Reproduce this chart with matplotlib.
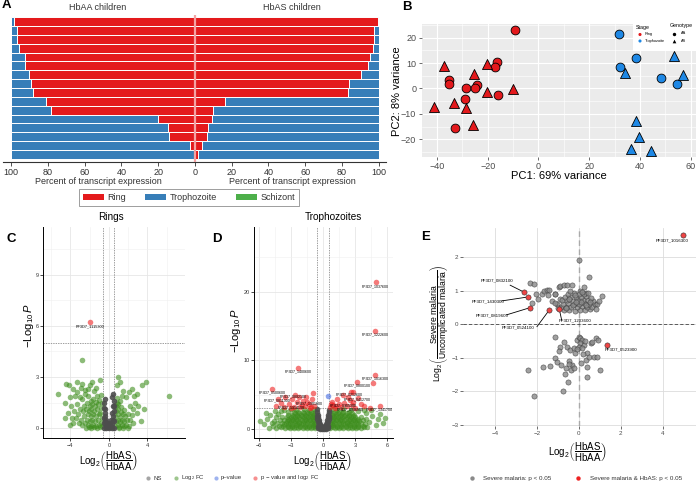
import numpy as np
import matplotlib
matplotlib.use("Agg")
import matplotlib.pyplot as plt
from matplotlib.patches import Patch, Rectangle

plt.rcParams['font.family'] = ['Liberation Sans', 'DejaVu Sans']
plt.rcParams['mathtext.fontset'] = 'custom'
plt.rcParams['mathtext.rm'] = 'Liberation Sans'
plt.rcParams['mathtext.it'] = 'Liberation Sans:italic'
plt.rcParams['mathtext.bf'] = 'Liberation Sans:bold'

# ---------------- data ----------------
# Panel A: stage composition (top bar first)
ring_aa = [98.7, 97.1, 96.9, 95.8, 92.7, 92.4, 90.4, 89.5, 88.2, 81.1, 78.2, 20.2, 14.7, 14.2, 2.7, 0.5]
troph_aa = [1.3, 2.9, 3.1, 4.2, 7.3, 7.6, 9.6, 10.5, 11.8, 18.9, 21.8, 79.8, 85.3, 85.8, 97.3, 99.5]
schiz_aa = [0.0] * 16
ring_as = [99.6, 97.5, 97.5, 97.1, 95.1, 94.2, 90.5, 83.6, 83.2, 16.4, 9.7, 9.4, 7.0, 6.3, 4.0, 1.4]
troph_as = [0.4, 2.5, 2.5, 2.9, 4.9, 5.8, 9.5, 16.4, 16.8, 83.6, 90.3, 90.6, 93.0, 93.7, 96.0, 98.6]
schiz_as = [0.0] * 16
stage_names = ['Ring', 'Trophozoite', 'Schizont']
pct_ticks = [-100, -80, -60, -40, -20, 0, 20, 40, 60, 80, 100]

# Panel B: PCA
pca_ring_aa = [(-9.2, 23.2), (-16.3, 10.3), (-17.1, 8.3), (-35.4, 3.3), (-35.1, 1.6), (-24.2, 1.2),
               (-28.6, 0.3), (-24.9, 0.1), (-15.8, -2.5), (-29.1, -4.3), (-32.8, -15.5)]
pca_ring_as = [(-37.1, 8.7), (-20.4, 9.6), (-25.5, 5.5), (-20.1, -1.4), (-9.9, -0.3), (-41.1, -7.2),
               (-33.4, -5.8), (-28.6, -7.8), (-25.8, -14.5)]
pca_troph_aa = [(31.6, 21.3), (38.3, 12.1), (32.2, 8.3), (48.4, 4.2), (54.7, 1.7)]
pca_troph_as = [(53.3, 12.9), (57.0, 5.3), (34.3, 6.1), (38.3, -13.0), (39.6, -19.3), (36.3, -23.9), (44.5, -24.6)]

# Panel C: volcano, rings
c_ns = [(-0.55, 1.5), (-0.5, 1.2), (-0.45, 0.9), (-0.5, 0.6), (-0.4, 0.4), (-0.3, 0.2), (-0.2, 0.1), (-0.1, 0.05),
        (0.0, 0.0), (0.1, 0.05), (0.2, 0.1), (0.3, 0.25), (0.4, 0.45), (0.45, 0.7), (0.5, 1.0), (0.55, 1.3),
        (0.5, 1.6), (0.45, 2.0), (-0.35, 0.7), (-0.25, 0.45), (0.25, 0.5), (0.35, 0.9), (-0.45, 1.7), (0.3, 1.8),
        (-0.15, 0.3), (0.15, 0.3), (-0.05, 0.15), (0.05, 0.2), (-0.55, 0.3), (0.55, 0.4), (-0.4, 1.1), (0.4, 1.3),
        (-0.3, 0.0), (0.3, 0.0), (-0.5, 0.0), (0.5, 0.0)]
c_fc = [(-0.7, 0.1), (-0.8, 0.3), (-0.7, 0.6), (-0.9, 0.9), (-0.8, 1.2), (-1.0, 0.2), (-1.1, 0.5), (-1.0, 0.8),
        (-1.2, 1.1), (-1.1, 1.4), (-1.3, 0.1), (-1.4, 0.4), (-1.3, 0.7), (-1.5, 1.0), (-1.4, 1.3), (-1.6, 0.2),
        (-1.7, 0.5), (-1.6, 0.8), (-1.8, 1.1), (-1.7, 1.4), (-1.9, 0.1), (-2.0, 0.4), (-1.9, 0.7), (-2.1, 1.0),
        (-2.0, 1.3), (-2.2, 0.2), (-2.3, 0.5), (-2.2, 0.8), (-2.4, 1.1), (-2.5, 0.3), (-2.6, 0.7), (-2.7, 1.0),
        (-2.8, 0.2), (-2.9, 0.5), (-0.9, 0.05), (-1.2, 0.0), (-1.5, 0.05), (-1.8, 0.0), (-2.1, 0.05), (-2.4, 0.0),
        (-0.75, 1.5), (-1.05, 1.65), (-1.35, 1.55), (-1.6, 1.7), (-1.9, 1.6), (-2.3, 1.45), (-2.6, 1.3), (-3.0, 1.1),
        (-3.2, 0.8), (-3.1, 0.3), (-3.4, 0.6), (-3.6, 1.0), (-3.3, 1.4), (-2.8, 1.7), (-2.2, 1.9), (-1.2, 1.9),
        (-0.85, 1.95),
        (-5.3, 2.0), (-4.45, 2.6), (-4.1, 2.5), (-3.75, 2.3), (-3.3, 2.7), (-2.8, 2.6), (-2.75, 4.0), (-2.45, 2.25),
        (-2.15, 2.3), (-1.5, 2.2), (-1.3, 2.35), (-0.9, 2.8), (-4.6, 0.6), (-4.5, 1.5), (-3.8, 0.6), (-3.9, 1.3),
        (-3.0, 1.8), (-2.5, 2.0), (-3.5, 1.9), (-4.0, 1.8), (-3.3, 2.1), (-2.0, 2.5), (-1.7, 2.7), (-2.9, 2.35),
        (-4.2, 0.9), (-3.7, 0.3), (-4.0, 0.2),
        (0.65, 0.1), (0.7, 0.4), (0.65, 0.7), (0.75, 1.0), (0.7, 1.3), (0.9, 0.2), (0.95, 0.5), (0.9, 0.8),
        (1.0, 1.1), (1.1, 0.05), (1.2, 0.35), (1.15, 0.65), (1.25, 0.95), (1.35, 0.2), (1.4, 0.5), (1.45, 0.8),
        (1.55, 0.1), (1.6, 0.4), (1.7, 0.7), (1.8, 0.2), (1.9, 0.5), (2.0, 0.85), (2.1, 0.15), (2.2, 0.45),
        (0.8, 1.5), (1.0, 1.4), (1.3, 1.25), (1.6, 1.05), (2.4, 0.75), (2.5, 0.3), (0.85, 1.75), (1.2, 1.6),
        (1.05, 0.0), (1.5, 0.0), (1.95, 0.0),
        (1.0, 3.0), (1.2, 2.7), (0.8, 2.5), (2.1, 2.1), (2.35, 2.3), (3.45, 2.5), (3.9, 2.7), (6.25, 1.9),
        (3.3, 0.4), (2.7, 1.5), (2.9, 0.9), (2.6, 1.9), (1.5, 2.2), (1.8, 1.8), (2.2, 1.3), (3.0, 1.3),
        (3.6, 1.1), (2.9, 2.0), (1.4, 1.9), (2.5, 1.1)]
c_both = [(-1.92, 6.2)]
c_both_labels = ['PF3D7_1115300']

# Panel D: volcano, trophozoites
d_ns = [(-0.55, 2.5), (-0.5, 2.1), (-0.45, 1.7), (-0.4, 1.3), (-0.35, 1.0), (-0.3, 0.7), (-0.2, 0.45), (-0.1, 0.25),
        (0.0, 0.1), (0.1, 0.25), (0.2, 0.45), (0.3, 0.7), (0.35, 1.0), (0.4, 1.3), (0.45, 1.7), (0.5, 2.1),
        (0.55, 2.5), (-0.5, 1.0), (-0.45, 0.5), (-0.35, 0.3), (-0.2, 0.1), (0.2, 0.1), (0.35, 0.3), (0.45, 0.5),
        (0.5, 1.0), (-0.55, 1.4), (0.55, 1.4), (-0.5, 0.1), (0.5, 0.1), (-0.3, 0.0), (0.3, 0.0), (-0.55, 1.9),
        (0.55, 1.9), (-0.1, 0.0), (0.1, 0.0), (0.0, 0.3), (-0.57, 2.9), (0.57, 2.8)]
d_fc = [(-0.7, 0.1), (-1.1, 0.12), (-1.5, 0.08), (-1.9, 0.1), (-2.3, 0.12), (-2.7, 0.1), (-3.1, 0.08), (-3.5, 0.1),
        (-0.9, 0.3), (-1.3, 0.32), (-1.7, 0.28), (-2.1, 0.3), (-2.5, 0.31), (-2.9, 0.3), (-3.3, 0.29), (-3.9, 0.3),
        (-0.75, 0.5), (-0.95, 0.52), (-1.3, 0.5), (-1.7, 0.48), (-2.1, 0.5), (-2.5, 0.52), (-2.9, 0.5), (-3.3, 0.49),
        (-3.7, 0.5), (-4.1, 0.51), (-0.85, 0.7), (-1.25, 0.72), (-1.65, 0.7), (-2.05, 0.68), (-2.45, 0.7),
        (-2.85, 0.71), (-3.25, 0.7), (-3.65, 0.69), (-0.7, 0.9), (-1.05, 0.92), (-1.45, 0.9), (-1.85, 0.88),
        (-2.25, 0.9), (-2.65, 0.91), (-3.05, 0.9), (-3.45, 0.89), (-3.85, 0.9), (-4.3, 0.92), (-0.9, 1.1),
        (-1.4, 1.12), (-1.8, 1.1), (-2.2, 1.08), (-2.6, 1.1), (-3.0, 1.11), (-3.4, 1.1), (-0.8, 1.3), (-1.2, 1.32),
        (-1.6, 1.3), (-2.0, 1.28), (-2.4, 1.3), (-2.8, 1.31), (-3.2, 1.3), (-3.6, 1.29), (-4.0, 1.3), (-0.9, 1.5),
        (-1.3, 1.52), (-1.7, 1.5), (-2.1, 1.48), (-2.5, 1.5), (-2.9, 1.51), (-3.3, 1.5), (-0.7, 1.7), (-1.0, 1.72),
        (-1.4, 1.7), (-1.8, 1.68), (-2.2, 1.7), (-2.6, 1.71), (-3.0, 1.7), (-3.4, 1.69), (-3.8, 1.7), (-0.9, 1.9),
        (-1.2, 1.92), (-1.6, 1.9), (-2.0, 1.88), (-2.4, 1.9), (-2.8, 1.91), (-0.85, 2.1), (-1.25, 2.12),
        (-1.65, 2.1), (-2.05, 2.08), (-2.45, 2.1), (-2.85, 2.11), (-3.3, 2.1), (-0.95, 2.3), (-1.4, 2.32),
        (-1.8, 2.3), (-2.2, 2.28), (-2.6, 2.3), (-0.7, 2.5), (-1.1, 2.52), (-1.5, 2.5), (-1.9, 2.48), (-2.3, 2.5),
        (-2.7, 2.51), (-0.8, 2.85), (-1.3, 2.8), (-1.8, 2.87), (-2.5, 2.82),
        (-5.9, 1.2), (-5.5, 0.7), (-5.2, 1.5), (-4.9, 2.1), (-4.7, 0.4), (-4.6, 1.2), (-4.5, 2.6), (-4.4, 1.7),
        (-5.3, 2.4), (-4.2, 2.2), (-3.9, 2.6), (-3.6, 2.8), (-3.3, 2.5), (-3.0, 2.9), (-4.8, 0.9), (-5.0, 0.2),
        (-4.4, 0.1),
        (0.7, 0.1), (1.1, 0.12), (1.5, 0.08), (1.9, 0.1), (2.3, 0.12), (2.7, 0.1), (3.1, 0.08), (3.5, 0.1),
        (0.9, 0.3), (1.3, 0.32), (1.7, 0.28), (2.1, 0.3), (2.5, 0.31), (2.9, 0.3), (3.3, 0.29), (3.8, 0.3),
        (0.75, 0.5), (0.95, 0.52), (1.3, 0.5), (1.7, 0.48), (2.1, 0.5), (2.5, 0.52), (2.9, 0.5), (3.3, 0.49),
        (3.7, 0.5), (0.85, 0.7), (1.25, 0.72), (1.65, 0.7), (2.05, 0.68), (2.45, 0.7), (2.85, 0.71), (3.25, 0.7),
        (0.7, 0.9), (1.05, 0.92), (1.45, 0.9), (1.85, 0.88), (2.25, 0.9), (2.65, 0.91), (3.05, 0.9), (3.5, 0.89),
        (0.9, 1.1), (1.4, 1.12), (1.8, 1.1), (2.2, 1.08), (2.6, 1.1), (3.0, 1.11), (3.4, 1.1), (0.8, 1.3),
        (1.2, 1.32), (1.6, 1.3), (2.0, 1.28), (2.4, 1.3), (2.8, 1.31), (3.2, 1.3), (3.7, 1.29), (0.9, 1.5),
        (1.3, 1.52), (1.7, 1.5), (2.1, 1.48), (2.5, 1.5), (2.9, 1.51), (3.3, 1.5), (0.7, 1.7), (1.0, 1.72),
        (1.4, 1.7), (1.8, 1.68), (2.2, 1.7), (2.6, 1.71), (3.0, 1.7), (3.5, 1.69), (0.9, 1.9), (1.2, 1.92),
        (1.6, 1.9), (2.0, 1.88), (2.4, 1.9), (2.8, 1.91), (0.85, 2.1), (1.25, 2.12), (1.65, 2.1), (2.05, 2.08),
        (2.45, 2.1), (2.9, 2.11), (0.95, 2.3), (1.4, 2.32), (1.8, 2.3), (2.2, 2.28), (2.7, 2.3), (0.7, 2.5),
        (1.1, 2.52), (1.5, 2.5), (1.9, 2.48), (2.4, 2.5), (0.8, 2.85), (1.3, 2.8), (1.9, 2.87), (2.6, 2.82),
        (4.0, 2.4), (4.3, 1.0), (4.6, 1.9), (4.9, 0.6), (5.1, 1.4), (5.3, 2.2), (5.6, 0.9), (4.1, 0.3),
        (4.5, 2.7), (3.8, 2.8), (5.8, 1.6), (4.0, 1.5), (3.9, 0.7), (3.3, 2.6)]
d_p = [(0.5, 4.85)]
d_both = [(4.91, 21.35), (4.85, 14.3), (-2.33, 8.9), (4.85, 7.8), (4.66, 6.7), (3.2, 6.85), (-4.78, 5.87),
          (2.83, 5.35), (2.58, 5.4), (5.3, 3.35),
          (-4.4, 3.3), (-4.2, 4.4), (-3.9, 3.8), (-3.5, 4.6), (-3.2, 3.6), (-2.9, 4.3), (-2.6, 5.0), (-2.4, 3.9),
          (-2.2, 4.6), (-2.0, 3.5), (-1.9, 4.1), (-1.7, 3.3), (-1.5, 4.0), (-1.3, 3.6), (-1.1, 3.2), (-1.0, 4.3),
          (-0.9, 5.3), (-2.7, 3.2), (-3.6, 3.2), (-1.6, 4.7), (-2.1, 3.2), (-1.2, 3.0), (-0.8, 3.4), (-3.0, 3.1),
          (0.7, 3.2), (0.8, 4.0), (0.9, 3.5), (1.1, 3.1), (1.3, 4.3), (1.5, 3.6), (1.7, 3.2), (2.0, 3.8),
          (2.2, 3.3), (2.5, 4.2), (2.7, 3.5), (3.0, 3.1), (3.3, 4.5), (3.5, 3.7), (1.9, 4.9), (2.3, 4.7),
          (0.75, 3.7), (1.2, 3.4), (2.8, 3.9), (3.8, 3.3), (4.4, 3.0)]
d_labels = ['PF3D7_1037600', 'PF3D7_1222600', 'PF3D7_1400600', 'PF3D7_1016300', 'PF3D7_0800100',
            'PF3D7_0500600', 'PF3D7_0802100', 'PF3D7_0811300', 'PF3D7_1001600', 'PF3D7_1354100',
            'PF3D7_0212600', 'PF3D7_0412700', 'PF3D7_0305300', 'PF3D7_0936900', 'PF3D7_1341700']
d_label_xy = [(4.89, 20.7), (4.89, 13.8), (-2.33, 8.4), (4.89, 7.3), (3.2, 6.3), (-4.75, 5.4), (-2.8, 4.7),
              (-4.3, 4.2), (-1.3, 3.8), (-3.0, 3.1), (2.4, 5.0), (3.2, 4.3), (1.9, 3.5), (2.5, 2.9), (5.2, 2.9)]

# Panel E
e_sig = [(-2.32, 1.24), (-2.16, 1.22), (-2.03, 0.9), (-2.24, 0.65), (-1.97, 0.75), (-1.76, 0.92), (-1.68, 1.0),
         (-1.52, 1.03), (-1.44, 1.04), (-1.47, 0.88), (-1.28, 0.7), (-1.15, 0.9), (-1.12, 0.92), (-0.96, 1.12),
         (-0.88, 1.14), (-0.72, 1.17), (-0.56, 1.17), (-0.32, 1.17), (0.0, 1.92), (0.51, 1.42), (1.12, 0.84),
         (0.24, 1.12), (0.08, 1.0), (0.32, 0.95), (-1.05, 0.6), (-1.15, 0.65), (-0.9, 0.75),
         (-0.7, 0.42), (-0.45, 0.44), (-0.2, 0.41), (0.05, 0.43), (0.3, 0.42), (0.55, 0.45),
         (-0.85, 0.52), (-0.6, 0.53), (-0.35, 0.51), (-0.1, 0.52), (0.15, 0.54), (0.4, 0.52), (0.65, 0.53),
         (-0.75, 0.62), (-0.5, 0.63), (-0.25, 0.61), (0.0, 0.62), (0.25, 0.64), (0.5, 0.62), (0.75, 0.6),
         (-0.8, 0.72), (-0.55, 0.73), (-0.3, 0.71), (-0.05, 0.72), (0.2, 0.74), (0.45, 0.72), (0.7, 0.7),
         (-0.65, 0.82), (-0.4, 0.83), (-0.15, 0.81), (0.1, 0.82), (0.35, 0.84), (0.6, 0.8),
         (-0.5, 0.92), (-0.25, 0.93), (0.0, 0.91), (0.25, 0.9), (0.45, 0.93),
         (-0.6, 0.48), (-0.3, 0.57), (0.1, 0.67), (-0.15, 0.66), (0.35, 0.58), (-0.45, 0.77), (0.55, 0.68),
         (-0.2, 0.87), (0.85, 0.6), (-1.0, 0.48), (0.95, 0.7), (0.8, 0.45), (-0.4, 1.0), (0.15, 0.98),
         (-2.43, -1.38), (-2.13, -2.14), (-1.73, -1.28), (-1.36, -1.24), (-1.15, -0.39), (-1.15, -1.01),
         (-1.04, -1.14), (-0.88, -0.69), (-0.83, -1.21), (-0.75, -1.98), (-0.67, -1.49), (-0.51, -1.71),
         (-0.61, -1.31), (-0.48, -1.09), (-0.32, -1.21), (-0.35, -1.36), (-0.56, -0.69), (-0.4, -0.77),
         (-0.24, -0.72), (-0.08, -0.47), (0.0, -0.37), (0.08, -0.4), (0.16, -0.47), (0.08, -0.57),
         (0.24, -0.62), (0.0, -0.69), (0.16, -0.72), (0.32, -1.07), (0.4, -0.87), (0.48, -0.97), (0.37, -1.56),
         (0.4, -1.27), (0.72, -0.97), (0.88, -0.99), (1.01, -1.38), (0.8, -0.42), (0.93, -0.47), (0.56, -0.55),
         (0.64, -0.52), (-0.72, -0.52), (-0.2, -0.85), (-0.1, -0.75), (0.3, -0.5), (-0.45, -1.2), (0.2, -0.9),
         (-0.95, -0.8), (-0.25, -1.3), (0.1, -1.15)]
e_both = [(4.98, 2.67), (-2.61, 0.96), (-2.41, 0.82), (-2.32, 0.5), (-1.42, 0.42), (-0.94, 0.47), (1.36, -0.61)]
e_both_labels = ['PF3D7_1016300', 'PF3D7_0832100', 'PF3D7_1430300', 'PF3D7_0819600', 'PF3D7_0524100',
                 'PF3D7_1203600', 'PF3D7_0523900']
e_label_xy = [(4.45, 2.5), (-3.93, 1.32), (-4.36, 0.7), (-4.14, 0.27), (-2.9, -0.1), (-0.16, 0.13), (2.0, -0.74)]
e_seg_start = [None, (-3.28, 1.17), (-3.68, 0.7), (-3.47, 0.28), (-2.0, -0.07), (-0.82, 0.13), None]

# ---------------- layout ----------------
W, H = 696, 484
fig = plt.figure(figsize=(W / 100, H / 100), dpi=100)


def rect(x0, y0, x1, y1):
    return [x0 / W, 1 - y1 / H, (x1 - x0) / W, (y1 - y0) / H]


ov = fig.add_axes([0, 0, 1, 1], zorder=10)
ov.set_xlim(0, W)
ov.set_ylim(H, 0)
ov.axis('off')
ov.patch.set_alpha(0)

RED, BLUE, GREEN = '#E41A1C', '#377EB8', '#4DAF4A'
TXT = '#333333'

# panel letters
for lab, (px, py) in zip('ABCDE', [(6, 5), (407, 7), (11, 239), (217, 239), (426, 237)]):
    ov.text(px, py, lab, fontsize=9.5, fontweight='bold', ha='center', va='center')

# ---------------- Panel A ----------------
axA = fig.add_axes(rect(3, 15, 386, 162))
n = len(ring_aa)
ypos = np.arange(n)[::-1]
r_aa, t_aa, s_aa = np.array(ring_aa), np.array(troph_aa), np.array(schiz_aa)
r_as, t_as, s_as = np.array(ring_as), np.array(troph_as), np.array(schiz_as)
kw = dict(height=1.0, edgecolor='white', linewidth=0.7)
axA.barh(ypos, -r_aa, left=0, color=RED, **kw)
axA.barh(ypos, -t_aa, left=-r_aa, color=BLUE, **kw)
axA.barh(ypos, -s_aa, left=-(r_aa + t_aa), color=GREEN, **kw)
axA.barh(ypos, r_as, left=0, color=RED, **kw)
axA.barh(ypos, t_as, left=r_as, color=BLUE, **kw)
axA.barh(ypos, s_as, left=r_as + t_as, color=GREEN, **kw)
axA.axvline(0, color='#F4A3A3', lw=1.6, zorder=3)
axA.set_xlim(-104.5, 104)
axA.set_ylim(-0.5 - 0.34, n - 0.5 + 0.23)
axA.set_yticks([])
axA.set_xticks(pct_ticks)
axA.set_xticklabels([str(abs(v)) for v in pct_ticks])
for s in ['top', 'right', 'left']:
    axA.spines[s].set_visible(False)
axA.spines['bottom'].set_color(TXT)
axA.spines['bottom'].set_linewidth(0.8)
axA.tick_params(axis='x', length=3, width=0.6, color=TXT, labelsize=6.5, labelcolor=TXT, pad=1.5)
ov.text(97.5, 7, 'HbAA children', fontsize=6.5, color=TXT, ha='center', va='center')
ov.text(292, 7, 'HbAS children', fontsize=6.5, color=TXT, ha='center', va='center')
ov.text(98, 181.5, 'Percent of transcript expression', fontsize=6.5, color=TXT, ha='center', va='center')
ov.text(292, 181.5, 'Percent of transcript expression', fontsize=6.5, color=TXT, ha='center', va='center')
handlesA = [Patch(facecolor=c, edgecolor='none') for c in (RED, BLUE, GREEN)]
legA = fig.legend(handlesA, stage_names, loc='center', bbox_to_anchor=(189 / W, 1 - 197.5 / H), ncol=3,
                  fontsize=6.5, frameon=True, fancybox=False, handlelength=2.3, handleheight=0.65,
                  handletextpad=0.4, columnspacing=2.1, borderpad=0.45, borderaxespad=0)
legA.get_frame().set_edgecolor('#555555')
legA.get_frame().set_linewidth(0.5)
for t in legA.get_texts():
    t.set_color(TXT)

# ---------------- Panel B ----------------
axB = fig.add_axes(rect(421.7, 24, 696, 156.7))
axB.set_facecolor('#EBEBEB')
axB.set_xlim(-46, 62.1)
axB.set_ylim(-26.9, 25.4)
axB.set_xticks([-40, -20, 0, 20, 40, 60])
axB.set_yticks([-20, -10, 0, 10, 20])
axB.set_xticks([-30, -10, 10, 30, 50], minor=True)
axB.set_yticks([-25, -15, -5, 5, 15, 25], minor=True)
axB.grid(which='major', color='white', lw=0.8)
axB.grid(which='minor', color='white', lw=0.4)
axB.set_axisbelow(True)
for s in axB.spines.values():
    s.set_visible(False)
axB.tick_params(which='major', length=2.5, width=0.5, color=TXT, labelsize=6.5, labelcolor='#4d4d4d', pad=1.5)
axB.tick_params(which='minor', length=0)
RB, BB = '#E3191C', '#1E88E5'
for pts, col, mk, sz in [(pca_ring_aa, RB, 'o', 40), (pca_ring_as, RB, '^', 52),
                         (pca_troph_aa, BB, 'o', 40), (pca_troph_as, BB, '^', 52)]:
    a = np.array(pts)
    axB.scatter(a[:, 0], a[:, 1], s=sz, marker=mk, c=col, edgecolors='black', linewidths=0.6, zorder=3)
axB.set_xlabel('PC1: 69% variance', fontsize=8, color='black')
axB.set_ylabel('PC2: 8% variance', fontsize=8, color='black')
axB.xaxis.set_label_coords(559, 176, transform=ov.transData)
axB.yaxis.set_label_coords(397, 91, transform=ov.transData)
axB.xaxis.label.set_va('center')
axB.yaxis.label.set_va('center')
# legend box for B
ov.add_patch(Rectangle((633, 22), 63, 29, facecolor='white', edgecolor='none', zorder=5))
ov.text(636, 28, 'Stage', fontsize=3.8, ha='left', va='center', zorder=6)
ov.text(670, 26, 'Genotype', fontsize=3.8, ha='left', va='center', zorder=6)
ov.scatter([640, 640], [34.5, 41], s=5, c=[RB, BB], marker='o', zorder=6, linewidths=0)
ov.text(645, 34.5, 'Ring', fontsize=2.8, ha='left', va='center', zorder=6)
ov.text(645, 41, 'Trophozoite', fontsize=2.8, ha='left', va='center', zorder=6)
ov.scatter([674], [33.5], s=6, c='black', marker='o', zorder=6, linewidths=0)
ov.scatter([674], [40.5], s=7, c='black', marker='^', zorder=6, linewidths=0)
ov.text(681, 33.5, 'AA', fontsize=2.8, ha='left', va='center', zorder=6)
ov.text(681, 40.5, 'AS', fontsize=2.8, ha='left', va='center', zorder=6)

# ---------------- Volcano helper ----------------
NS_C, FC_C, P_C, BOTH_C = '#4d4d4d', '#3f8f1f', '#4169E1', '#EE2222'
XLAB = r'$\mathrm{Log}_2\left(\dfrac{\mathrm{HbAS}}{\mathrm{HbAA}}\right)$'


def style_volcano(ax, xlim, ylim, xmaj, xmin, ymaj, ymin, hline):
    ax.set_xlim(*xlim)
    ax.set_ylim(*ylim)
    ax.set_xticks(xmaj)
    ax.set_xticks(xmin, minor=True)
    ax.set_yticks(ymaj)
    ax.set_yticks(ymin, minor=True)
    ax.grid(which='major', color='#e6e6e6', lw=0.6)
    ax.grid(which='minor', color='#f0f0f0', lw=0.4)
    ax.set_axisbelow(True)
    for s in ['top', 'right']:
        ax.spines[s].set_visible(False)
    for s in ['left', 'bottom']:
        ax.spines[s].set_color('black')
        ax.spines[s].set_linewidth(0.7)
    ax.tick_params(which='major', length=2, width=0.5, labelsize=4, labelcolor='#333333', pad=1.5)
    ax.tick_params(which='minor', length=0)
    ax.axvline(-0.58, color='#777777', ls=(0, (2, 1.5)), lw=0.5)
    ax.axvline(0.58, color='#777777', ls=(0, (2, 1.5)), lw=0.5)
    ax.axhline(hline, color='#777777', ls=(0, (2, 1.5)), lw=0.5)
    ax.set_xlabel(XLAB, fontsize=7)
    ax.set_ylabel(r'$-\mathrm{Log}_{10}\,\mathit{P}$', fontsize=8)


def scat(ax, pts, col, alpha, s=16):
    a = np.array(pts)
    ax.scatter(a[:, 0], a[:, 1], s=s, c=col, alpha=alpha, linewidths=0, zorder=3)


# ---------------- Panel C ----------------
axC = fig.add_axes(rect(43.3, 227, 185, 438.3))
style_volcano(axC, (-6.8, 7.9), (-0.6, 11.8), [-4, 0, 4], [-6, -2, 2, 6], [0, 3, 6, 9], [1.5, 4.5, 7.5, 10.5], 5)
scat(axC, c_fc, FC_C, 0.6)
scat(axC, c_ns, NS_C, 0.9)
scat(axC, c_both, BOTH_C, 0.6)
for (x, y), lab in zip(c_both, c_both_labels):
    axC.text(x, y - 0.25, lab, fontsize=2.8, ha='center', va='center', zorder=4)
ov.text(111, 217, 'Rings', fontsize=7.2, ha='center', va='center')
axC.xaxis.set_label_coords(109, 461, transform=ov.transData)
axC.yaxis.set_label_coords(29, 325, transform=ov.transData)
axC.xaxis.label.set_va('center')
axC.yaxis.label.set_va('center')

# ---------------- Panel D ----------------
axD = fig.add_axes(rect(254.3, 227, 393.3, 438.3))
style_volcano(axD, (-6.41, 6.56), (-1.35, 29.4), [-6, -3, 0, 3, 6], [-4.5, -1.5, 1.5, 4.5], [0, 10, 20],
              [5, 15, 25], 3.0)
scat(axD, d_fc, FC_C, 0.6)
scat(axD, d_ns, NS_C, 0.9)
scat(axD, d_p, P_C, 0.6)
scat(axD, d_both, BOTH_C, 0.6)
for (x, y), lab in zip(d_label_xy, d_labels):
    axD.text(x, y, lab, fontsize=2.6, ha='center', va='center', zorder=4)
ov.text(333, 217, 'Trophozoites', fontsize=7.2, ha='center', va='center')
axD.xaxis.set_label_coords(323, 461, transform=ov.transData)
axD.yaxis.set_label_coords(236, 330, transform=ov.transData)
axD.xaxis.label.set_va('center')
axD.yaxis.label.set_va('center')

# volcano legend
leg_items = [(148.3, NS_C, 0.5, 'NS'), (175.7, FC_C, 0.5, r'Log$_2$ FC'), (215.7, P_C, 0.5, 'p\u2013value'),
             (255, BOTH_C, 0.5, r'p $-$ value and log$_2$ FC')]
for px, col, al, lab in leg_items:
    ov.scatter([px], [478], s=9, c=col, alpha=al, linewidths=0)
    ov.text(px + 5, 478, lab, fontsize=4.3, ha='left', va='center', color=TXT)

# ---------------- Panel E ----------------
axE = fig.add_axes(rect(463.3, 228, 696, 426))
axE.set_xlim(-5.52, 5.6)
axE.set_ylim(-3.04, 2.88)
axE.set_xticks([-4, -2, 0, 2, 4])
axE.set_yticks([-3, -2, -1, 0, 1, 2])
axE.grid(color='#dcdcdc', lw=0.6)
axE.set_axisbelow(True)
for s in axE.spines.values():
    s.set_visible(False)
axE.tick_params(length=2, width=0.5, color='#333333', labelsize=4.5, labelcolor='#4d4d4d', pad=1.5)
axE.axvline(0, color='#aaaaaa', ls=(0, (4, 2.5)), lw=1.0, zorder=1)
axE.axhline(0, color='#444444', ls=(0, (4, 2.5)), lw=0.6, zorder=1)
a = np.array(e_sig)
axE.scatter(a[:, 0], a[:, 1], s=14, c='#8a8a8a', alpha=0.8, edgecolors='#333333', linewidths=0.4, zorder=3)
a = np.array(e_both)
axE.scatter(a[:, 0], a[:, 1], s=14, c='#EE4444', edgecolors='#333333', linewidths=0.4, zorder=4)
for (lx, ly), st, pt, lab in zip(e_label_xy, e_seg_start, e_both, e_both_labels):
    axE.text(lx, ly, lab, fontsize=3.2, ha='center', va='center', zorder=5)
    if st is not None:
        axE.plot([st[0], pt[0]], [st[1], pt[1]], color='black', lw=0.6, zorder=2)
axE.set_xlabel(XLAB, fontsize=7)
axE.set_ylabel(r'$\mathrm{Log}_2\left(\dfrac{\mathrm{Severe\ malaria}}{\mathrm{Uncomplicated\ malaria}}\right)$',
               fontsize=6.2)
axE.xaxis.set_label_coords(578, 452, transform=ov.transData)
axE.yaxis.set_label_coords(440, 323, transform=ov.transData)
axE.xaxis.label.set_va('center')
axE.yaxis.label.set_va('center')
ov.scatter([471.7], [478.3], s=10, c='#8a8a8a', linewidths=0)
ov.text(483, 478.3, 'Severe malaria: p < 0.05', fontsize=4.5, ha='left', va='center', color=TXT)
ov.scatter([578.3], [478.3], s=10, c='#EE2222', linewidths=0)
ov.text(590, 478.3, 'Severe malaria & HbAS: p < 0.05', fontsize=4.5, ha='left', va='center', color=TXT)

fig.savefig('out.png', dpi=100)
